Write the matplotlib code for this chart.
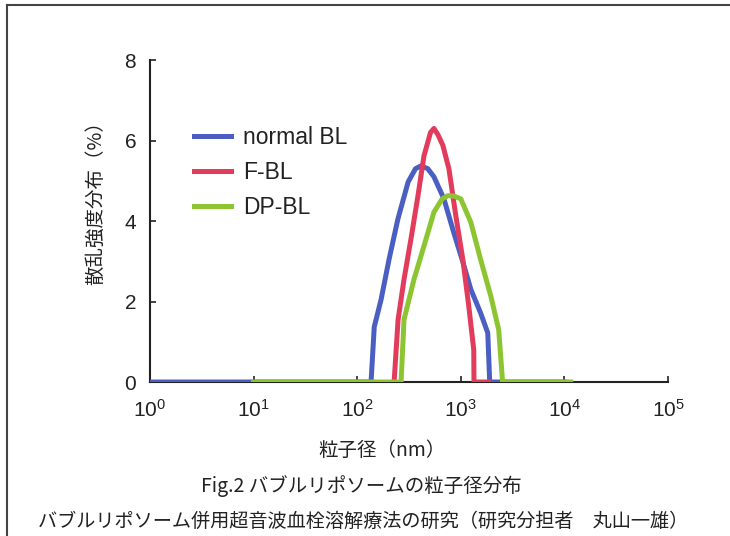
import numpy as np
import matplotlib
matplotlib.use("Agg")
from matplotlib import pyplot as plt
from matplotlib.lines import Line2D

plt.rcParams['font.family'] = ['Liberation Sans', 'Noto Sans CJK JP', 'DejaVu Sans']
plt.rcParams['mathtext.default'] = 'regular'

# 粒子径 (nm) と 散乱強度分布 (%)
normal_x = [1, 136, 146, 170, 203, 247, 310, 365, 412, 480, 550, 687, 853, 1050, 1250, 1550, 1820, 1900, 10000]
normal_y = [0, 0, 1.37, 2.05, 3.05, 4.05, 4.97, 5.3, 5.37, 5.3, 5.1, 4.55, 3.72, 2.97, 2.3, 1.72, 1.22, 0, 0]

fbl_x = [227, 248, 283, 330, 386, 441, 510, 550, 600, 671, 767, 895, 1045, 1194, 1333, 1340, 1860]
fbl_y = [0, 1.55, 2.55, 3.55, 4.63, 5.62, 6.2, 6.3, 6.15, 5.88, 5.3, 4.13, 3.05, 1.88, 0.8, 0, 0]

dpbl_x = [10, 265, 283, 353, 441, 550, 660, 750, 860, 1000, 1248, 1550, 1950, 2320, 2530, 11500]
dpbl_y = [0, 0, 1.55, 2.55, 3.38, 4.22, 4.55, 4.63, 4.62, 4.55, 3.97, 3.05, 2.13, 1.3, 0, 0]

fig = plt.figure(figsize=(7.3, 5.36), dpi=100)
ax = fig.add_axes([0.2055, 0.2873, 0.7096, 0.6007])

ax.plot(normal_x, normal_y, color='#4a5fc1', lw=3.6, label='normal BL', zorder=3, solid_joinstyle='round')
ax.plot(fbl_x, fbl_y, color='#e23b5c', lw=3.6, label='F-BL', zorder=4, solid_joinstyle='round')
ax.plot(dpbl_x, dpbl_y, color='#8cc531', lw=3.6, label='DP-BL', zorder=5, solid_joinstyle='round')

ax.set_xscale('log')
ax.set_xlim(1, 1e5)
ax.set_ylim(0, 8)
ax.set_xticks([1, 10, 100, 1000, 1e4, 1e5])
ax.xaxis.set_minor_locator(matplotlib.ticker.NullLocator())
ax.set_yticks([0, 2, 4, 6, 8])
ax.tick_params(direction='in', length=4, width=1.2, labelsize=15, pad=10, colors='#222222')
ax.tick_params(axis='x', pad=12)
for s in ['top', 'right']:
    ax.spines[s].set_visible(False)
for s in ['left', 'bottom']:
    ax.spines[s].set_linewidth(1.5)
    ax.spines[s].set_color('#222222')
for lab in ax.get_xticklabels() + ax.get_yticklabels():
    lab.set_color('#222222')

ax.set_ylabel('散乱強度分布（%）', fontsize=14, family=['Noto Sans CJK JP', 'DejaVu Sans'], color='#222222')
ax.yaxis.set_label_coords(-0.085, 0.571)
ax.set_xlabel('粒子径（nm）', fontsize=14, family=['Noto Sans CJK JP', 'DejaVu Sans'], color='#222222')
ax.xaxis.set_label_coords(0.447, -0.18)

ax.legend(loc='upper left', bbox_to_anchor=(0.085, 0.795), frameon=False, fontsize=16.5,
          handlelength=1.6, handletextpad=0.55, labelspacing=0.52, borderaxespad=0, borderpad=0,
          labelcolor='#222222')

fig.text(0.495, 0.093, 'Fig.2 バブルリポソームの粒子径分布', ha='center', va='center', fontsize=14,
         family=['Noto Sans CJK JP', 'DejaVu Sans'], color='#222222')
fig.text(0.498, 0.028, 'バブルリポソーム併用超音波血栓溶解療法の研究（研究分担者　丸山一雄）', ha='center',
         va='center', fontsize=13.8, family=['Noto Sans CJK JP', 'DejaVu Sans'], color='#222222')

# 外枠（上と左）
fig.add_artist(Line2D([0.009, 0.009], [0, 0.99], color='#444444', lw=1.5))
fig.add_artist(Line2D([0.009, 1], [0.99, 0.99], color='#444444', lw=1.5))

fig.savefig('out.png', dpi=100)
